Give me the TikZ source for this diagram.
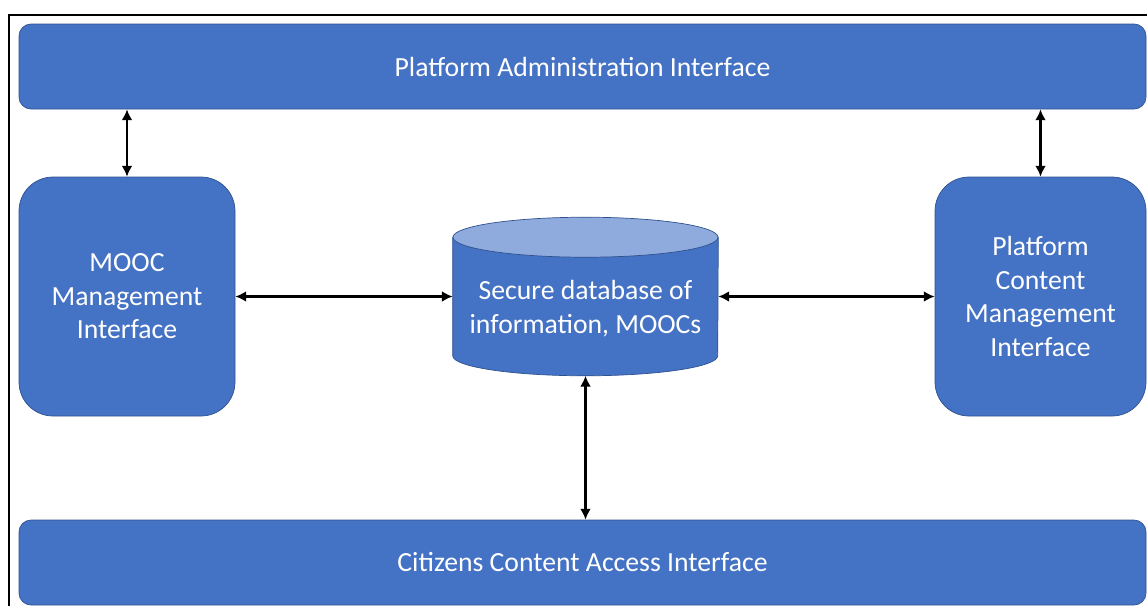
\documentclass[tikz,border=0pt]{standalone}
\usepackage{fontspec}
\setmainfont{Carlito}
\usepackage{xcolor}
\usepackage{tikz}
\usetikzlibrary{arrows.meta}

\definecolor{boxblue}{HTML}{4472C4}
\definecolor{boxedge}{HTML}{2F528F}
\definecolor{dbtop}{HTML}{8FAADC}

\begin{document}
\begin{tikzpicture}[
    bar/.style={draw=boxedge, line width=0.5pt, fill=boxblue, rounded corners=0.3cm,
        minimum width=28.175cm, minimum height=2.125cm, text=white, font=\fontsize{19.7}{23.8}\selectfont},
    panel/.style={draw=boxedge, line width=0.5pt, fill=boxblue, rounded corners=0.85cm,
        minimum height=5.975cm, align=center, text=white, font=\fontsize{19.7}{23.8}\selectfont},
    store/.style={minimum width=6.625cm, minimum height=3.95cm, inner sep=0pt},
    dbbody/.style={draw=boxedge, line width=0.5pt, fill=boxblue},
    dbend/.style={draw=boxedge, line width=0.5pt, fill=dbtop},
    lbl/.style={align=center, text=white, font=\fontsize{19.7}{23.8}\selectfont},
    link/.style={{Latex[length=2.7mm,width=2.7mm]}-{Latex[length=2.7mm,width=2.7mm]}, line width=1.5pt},
]
\useasboundingbox (0,0) rectangle (28.675,-15.15);

% ---- cadre ----
\draw[line width=1.2pt] (0.225,-15.15) -- (0.225,-0.375) -- (28.675,-0.375);

% ---- barres haut / bas ----
\node[bar] (admin) at (14.5625,-1.6625) {Platform Administration Interface};
\node[bar] (citizens) at (14.5625,-14.0625) {Citizens Content Access Interface};

% ---- interfaces laterales ----
\node[panel, minimum width=5.4cm] (mooc) at (3.175,-7.4125) {MOOC\\Management\\Interface};
\node[panel, minimum width=5.275cm] (content) at (26.0125,-7.4125) {Platform\\Content\\Management\\Interface};

% ---- base de donnees (cylindre) ----
\node[store] (db) at (14.6375,-7.4125) {};
\draw[dbbody] ([yshift=-0.5cm]db.north west) -- ([yshift=0.5cm]db.south west)
    arc[start angle=180, end angle=360, x radius=3.3125cm, y radius=0.5cm]
    -- ([yshift=-0.5cm]db.north east) -- cycle;
\draw[dbend] ([yshift=-0.5cm]db.north) ellipse[x radius=3.3125cm, y radius=0.5cm];
\node[lbl] (dbtext) at ([yshift=-0.3cm]db.center) {Secure database of\\information, MOOCs};

% ---- liaisons ----
\draw[link] (mooc.north |- admin.south) -- (mooc.north);
\draw[link] (content.north |- admin.south) -- (content.north);
\draw[link] (mooc.east) -- (db.west);
\draw[link] (db.east) -- (content.west);
\draw[link] (db.south) -- (db.south |- citizens.north);

\end{tikzpicture}
\end{document}
